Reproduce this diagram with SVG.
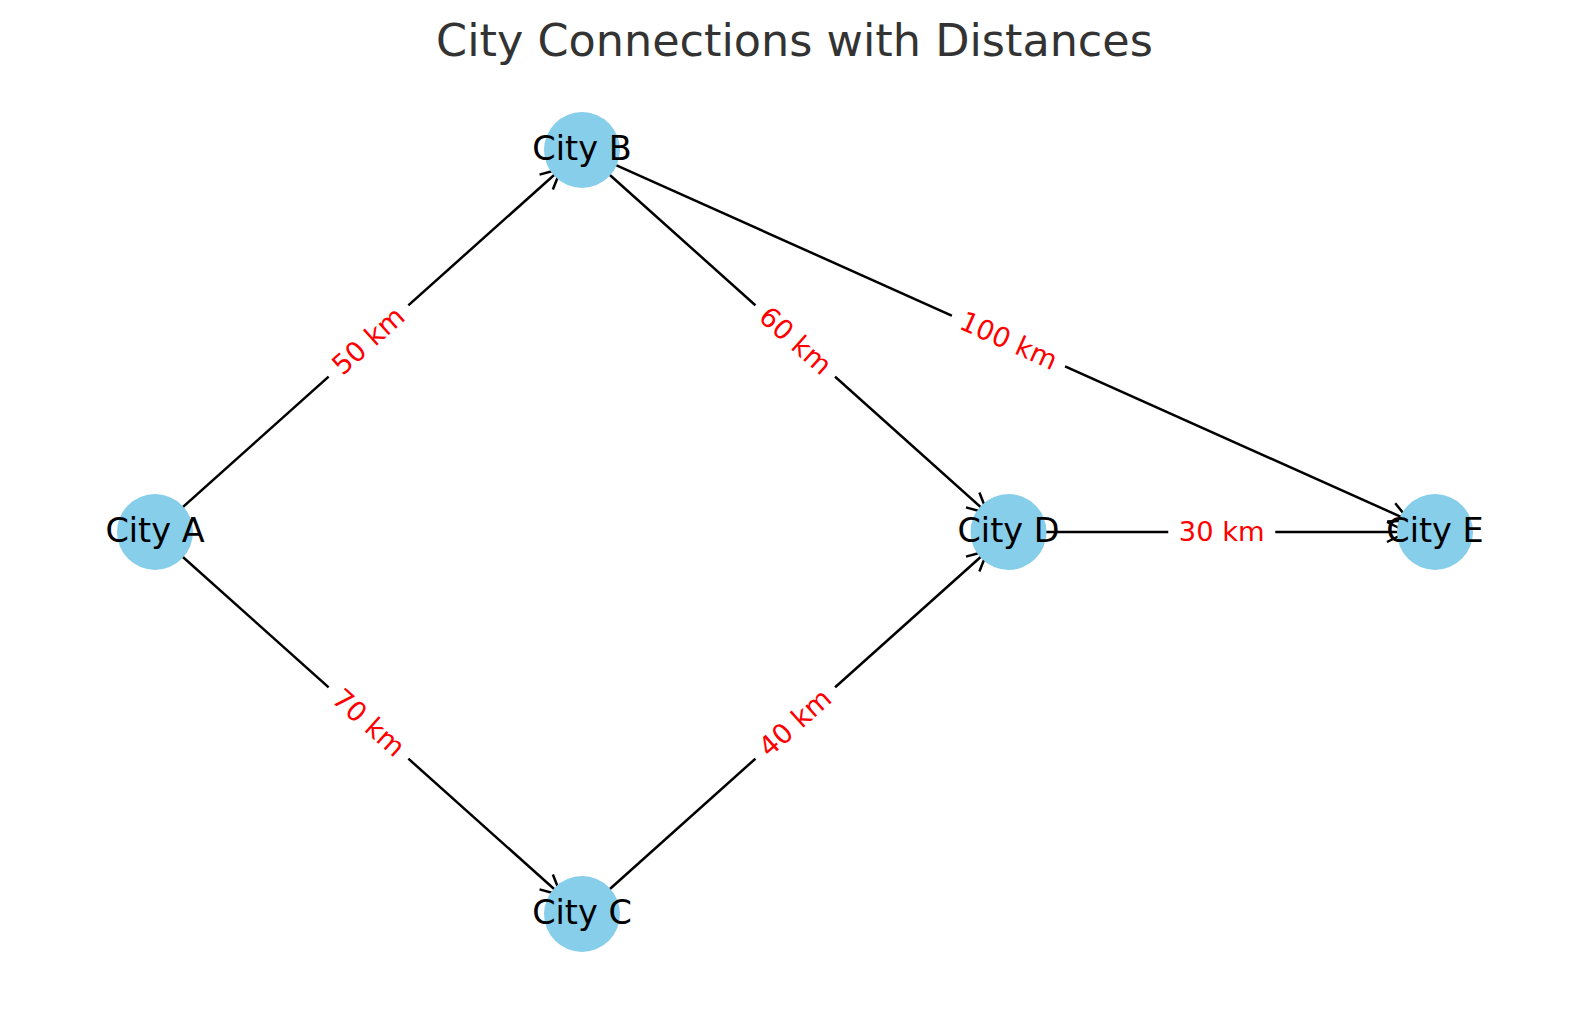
<svg xmlns="http://www.w3.org/2000/svg" width="1589" height="1014" viewBox="0 0 1589 1014">
<style>
.node circle{fill:#87ceeb}
.node text{font-family:"DejaVu Sans",sans-serif;font-size:33.5px;fill:#000;text-anchor:middle}
.edge line{stroke:#000;stroke-width:2.5;fill:none}
.lbl rect{fill:#fff}
.lbl text{font-family:"DejaVu Sans",sans-serif;font-size:27.3px;fill:#f00;text-anchor:middle}
.title{font-family:"DejaVu Sans",sans-serif;font-size:44.5px;fill:#333;text-anchor:middle}
</style>
<defs>
<marker id="arr" markerUnits="userSpaceOnUse" orient="auto" markerWidth="50" markerHeight="50" viewBox="-25 -25 50 50" refX="0" refY="0" overflow="visible">
<path d="M-20,-10 L0,0 L-20,10" fill="none" stroke="#000" stroke-width="2.5"/>
</marker>
</defs>
<rect width="1589" height="1014" fill="#fff"/>
<text class="title" x="794.5" y="56">City Connections with Distances</text>
<g id="connectors">
<g class="edge" id="e-AB"><line x1="175.9" y1="513.3" x2="561.1" y2="168.7" marker-end="url(#arr)"/></g>
<g class="edge" id="e-AC"><line x1="175.9" y1="550.7" x2="561.1" y2="895.3" marker-end="url(#arr)"/></g>
<g class="edge" id="e-BD"><line x1="602.9" y1="168.7" x2="987.6" y2="513.3" marker-end="url(#arr)"/></g>
<g class="edge" id="e-CD"><line x1="602.9" y1="895.3" x2="987.6" y2="550.7" marker-end="url(#arr)"/></g>
<g class="edge" id="e-BE"><line x1="607.6" y1="161.4" x2="1409.4" y2="520.6" marker-end="url(#arr)"/></g>
<g class="edge" id="e-DE"><line x1="1036.5" y1="532" x2="1407" y2="532" marker-end="url(#arr)"/></g>
<g class="lbl" transform="translate(368.5,341) rotate(-41.8)"><rect x="-53.5" y="-21" width="107" height="42"/><text y="9">50 km</text></g>
<g class="lbl" transform="translate(368.5,723) rotate(41.8)"><rect x="-53.5" y="-21" width="107" height="42"/><text y="9">70 km</text></g>
<g class="lbl" transform="translate(795.25,341) rotate(41.85)"><rect x="-53.5" y="-21" width="107" height="42"/><text y="9">60 km</text></g>
<g class="lbl" transform="translate(795.25,723) rotate(-41.85)"><rect x="-53.5" y="-21" width="107" height="42"/><text y="9">40 km</text></g>
<g class="lbl" transform="translate(1008.5,341) rotate(24.13)"><rect x="-62" y="-21" width="124" height="42"/><text y="9">100 km</text></g>
<g class="lbl" transform="translate(1221.75,532)"><rect x="-53.5" y="-21" width="107" height="42"/><text y="9">30 km</text></g>
</g>
<g id="node-A" class="node"><circle cx="155" cy="532" r="38"/><text x="155" y="541.5">City A</text></g>
<g id="node-B" class="node"><circle cx="582" cy="150" r="38"/><text x="582" y="159.5">City B</text></g>
<g id="node-C" class="node"><circle cx="582" cy="914" r="38"/><text x="582" y="923.5">City C</text></g>
<g id="node-D" class="node"><circle cx="1008.5" cy="532" r="38"/><text x="1008.5" y="541.5">City D</text></g>
<g id="node-E" class="node"><circle cx="1435" cy="532" r="38"/><text x="1435" y="541.5">City E</text></g>
</svg>
